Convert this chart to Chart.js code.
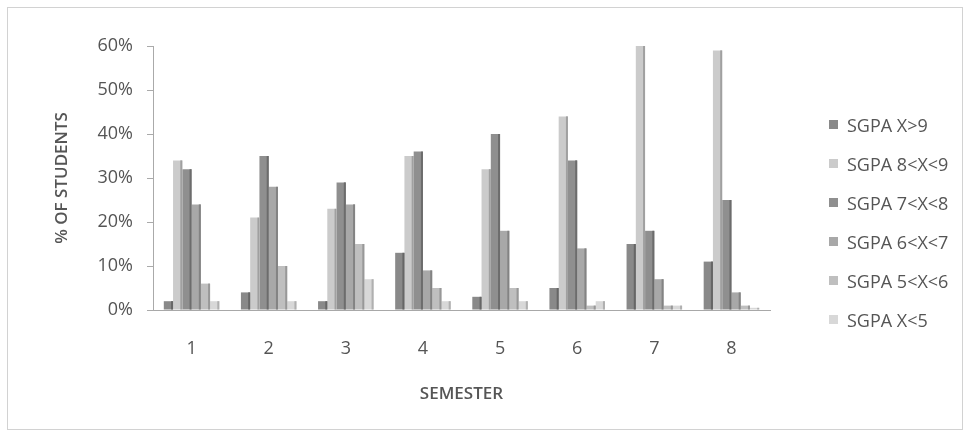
<!DOCTYPE html>
<html>
<head>
<meta charset="utf-8">
<script src="https://cdn.jsdelivr.net/npm/chart.js@4.4.0/dist/chart.umd.min.js"></script>
<style>
  body { margin: 0; background: #fff; }
  #wrap { position: relative; width: 968px; height: 432px; }
  #frame { position: absolute; left: 7px; top: 7px; width: 954px; height: 421px; border: 1px solid #d2d2d2; }
  #legend { position: absolute; left: 829px; top: 113px; font-family: 'Open Sans', sans-serif; font-size: 18px; color: #555; }
  #legend div { height: 39px; line-height: 24px; white-space: nowrap; }
  #legend span { display: inline-block; width: 9px; height: 9px; margin-right: 9px; vertical-align: 3px; }
</style>
</head>
<body>
<div id="wrap">
  <div id="frame"></div>
  <canvas id="chart" width="968" height="432"></canvas>
  <div id="legend"></div>
</div>
<script>
// semesters
const semesters = ['1', '2', '3', '4', '5', '6', '7', '8'];

// % of students per SGPA band, one array per band
const sgpaAbove9 = [2, 4, 2, 13, 3, 5, 15, 11];
const sgpa8to9 = [34, 21, 23, 35, 32, 44, 60, 59];
const sgpa7to8 = [32, 35, 29, 36, 40, 34, 18, 25];
const sgpa6to7 = [24, 28, 24, 9, 18, 14, 7, 4];
const sgpa5to6 = [6, 10, 15, 5, 5, 1, 1, 1];
const sgpaBelow5 = [2, 2, 7, 2, 2, 2, 1, 0.5];

const seriesNames = ['SGPA X>9', 'SGPA 8<X<9', 'SGPA 7<X<8', 'SGPA 6<X<7', 'SGPA 5<X<6', 'SGPA X<5'];
const seriesValues = [sgpaAbove9, sgpa8to9, sgpa7to8, sgpa6to7, sgpa5to6, sgpaBelow5];
const seriesColors = ['#898989', '#cbcbcb', '#8f8f8f', '#a8a8a8', '#bfbfbf', '#d8d8d8'];
const sideColors = ['#666666', '#a0a0a0', '#6c6c6c', '#838383', '#989898', '#b0b0b0'];

const yTicks = [0, 10, 20, 30, 40, 50, 60];

const tickFont = { family: "'Open Sans', sans-serif", size: 18 };
const titleFont = { family: "'Open Sans', sans-serif", size: 17, weight: '600' };

// darker right side to fake the 3D look of the original
const sideFaces = {
	id: 'sideFaces',
	afterDatasetsDraw(chart) {
		const ctx = chart.ctx;
		chart.data.datasets.forEach((ds, i) => {
			chart.getDatasetMeta(i).data.forEach((bar) => {
				const w = bar.width;
				const top = Math.min(bar.y, bar.base);
				const h = Math.abs(bar.base - bar.y);
				ctx.fillStyle = sideColors[i];
				ctx.fillRect(bar.x + w / 2 - 2, top, 2, h);
			});
		});
	},
};

const chart = new Chart(document.getElementById('chart'), {
	type: 'bar',
	data: {
		labels: semesters,
		datasets: seriesNames.map((name, i) => ({
			label: name,
			data: seriesValues[i],
			backgroundColor: seriesColors[i],
			borderWidth: 0,
			categoryPercentage: 0.72,
			barPercentage: 1,
		})),
	},
	options: {
		responsive: false,
		animation: false,
		layout: { padding: { left: 48, right: 198, top: 46, bottom: 24 } },
		plugins: {
			legend: { display: false },
			tooltip: { enabled: false },
		},
		scales: {
			x: {
				grid: { display: false, drawTicks: false },
				border: { display: true, color: '#a8a8a8' },
				ticks: { color: '#555', font: tickFont, padding: 28 },
				title: { display: true, text: 'SEMESTER', color: '#555', font: titleFont },
				afterFit: (scale) => { scale.height = 98; },
			},
			y: {
				min: 0,
				max: 60,
				afterBuildTicks: (scale) => { scale.ticks = yTicks.map((v) => ({ value: v })); },
				grid: { drawOnChartArea: false, drawTicks: true, tickLength: 6, color: '#aaa' },
				border: { display: true, color: '#aaa' },
				ticks: { color: '#555', font: tickFont, padding: 14, callback: (v) => v + '%' },
				title: { display: true, text: '% OF STUDENTS', color: '#555', font: titleFont },
				afterFit: (scale) => { scale.width = 105; },
			},
		},
	},
	plugins: [sideFaces],
});

// legend as html
const legend = document.getElementById('legend');
seriesNames.forEach((name, i) => {
	const row = document.createElement('div');
	row.innerHTML = '<span style="background:' + seriesColors[i] + '"></span>' + name.replace(/</g, '&lt;').replace(/>/g, '&gt;');
	legend.appendChild(row);
});
</script>
</body>
</html>
